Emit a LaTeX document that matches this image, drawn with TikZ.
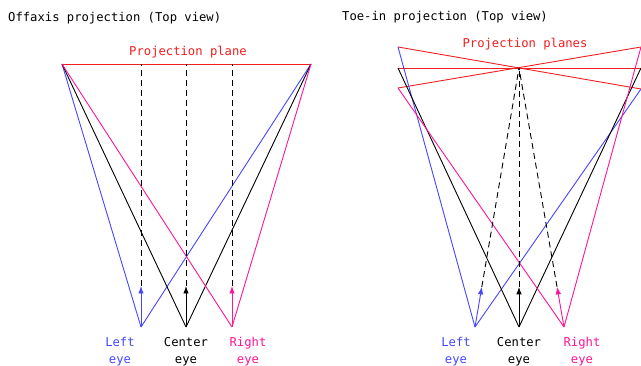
\documentclass[tikz,border=0pt]{standalone}
\usepackage{fontspec}
\setmonofont{DejaVu Sans Mono}
\usepackage{tikz}
\usetikzlibrary{arrows.meta,positioning,calc}
\definecolor{eyeblue}{RGB}{70,70,255}
\definecolor{eyepink}{RGB}{255,20,150}
\definecolor{planered}{RGB}{240,30,30}

\begin{document}
\begin{tikzpicture}[
  x=1pt, y=-1pt,
  ray/.style={line width=0.9pt},
  view/.style={ray, -{Latex[length=7.5pt,width=5.5pt]}},
  axis/.style={ray, dash pattern=on 6pt off 4pt},
  plane/.style={ray, draw=planered},
  title/.style={font=\ttfamily\fontsize{12.2}{14}\selectfont, anchor=west, inner sep=0pt},
  label/.style={font=\ttfamily\fontsize{12.2}{17}\selectfont, align=center, inner sep=0pt}
]
\useasboundingbox (0,0) rectangle (641,366);

% --- Offaxis: plane and eyes ---
\node[title] (offtitle) at (8,18) {Offaxis projection (Top view)};
\coordinate (pl) at (62,64);
\coordinate (pr) at (311,64);
\coordinate (leye) at (141,327);
\coordinate (ceye) at (186,327);
\coordinate (reye) at (232,327);
\node[font=\ttfamily\fontsize{12.2}{14}\selectfont, text=planered, inner sep=0pt] (plname) at (188,52) {Projection plane};
\draw[plane] (pl) -- (pr);

% frustum edges
\draw[ray, eyeblue] (leye) -- (pl);
\draw[ray, eyeblue] (leye) -- (pr);
\draw[ray, black] (ceye) -- (pl);
\draw[ray, black] (ceye) -- (pr);
\draw[ray, eyepink] (reye) -- (pl);
\draw[ray, eyepink] (reye) -- (pr);

% view directions
\coordinate (la) at (141,286);
\coordinate (ca) at (186,286);
\coordinate (ra) at (232,286);
\draw[view, eyeblue] (leye) -- (la);
\draw[view, black] (ceye) -- (ca);
\draw[view, eyepink] (reye) -- (ra);
\draw[axis] (la) -- (leye |- pl);
\draw[axis] (ca) -- (ceye |- pl);
\draw[axis] (ra) -- (reye |- pl);

\node[label, text=eyeblue, below=10pt of leye, xshift=-21pt] (lname) {Left\\eye};
\node[label, below=10pt of ceye] (cname) {Center\\eye};
\node[label, text=eyepink, below=10pt of reye, xshift=16pt] (rname) {Right\\eye};

% --- Toe-in: planes and eyes ---
\node[title] (toetitle) at (342,17) {Toe-in projection (Top view)};
\coordinate (conv) at (519,68);
\coordinate (lt) at (398,47);
\coordinate (lm) at (398,68);
\coordinate (lb) at (398,88);
\coordinate (rt) at (641,47);
\coordinate (rm) at (641,68);
\coordinate (rb) at (641,89);
\coordinate (tl) at (475,327);
\coordinate (tc) at (519,327);
\coordinate (tr) at (564,327);
\node[font=\ttfamily\fontsize{12.2}{14}\selectfont, text=planered, inner sep=0pt] (plsname) at (525,44) {Projection planes};
\draw[plane] (lt) -- (rb);
\draw[plane] (lm) -- (rm);
\draw[plane] (lb) -- (rt);

% frustum edges
\draw[ray, eyeblue] (tl) -- (lt);
\draw[ray, eyeblue] (tl) -- (rb);
\draw[ray, black] (tc) -- (lm);
\draw[ray, black] (tc) -- (rm);
\draw[ray, eyepink] (tr) -- (lb);
\draw[ray, eyepink] (tr) -- (rt);

% view directions
\coordinate (tla) at ($(tl)!0.155!(conv)$);
\coordinate (tca) at ($(tc)!0.155!(conv)$);
\coordinate (tra) at ($(tr)!0.155!(conv)$);
\draw[view, eyeblue] (tl) -- (tla);
\draw[view, black] (tc) -- (tca);
\draw[view, eyepink] (tr) -- (tra);
\draw[axis] (tla) -- (conv);
\draw[axis] (tca) -- (conv);
\draw[axis] (tra) -- (conv);

\node[label, text=eyeblue, below=10pt of tl, xshift=-19pt] (tlname) {Left\\eye};
\node[label, below=10pt of tc] (tcname) {Center\\eye};
\node[label, text=eyepink, below=10pt of tr, xshift=18pt] (trname) {Right\\eye};
\end{tikzpicture}
\end{document}
